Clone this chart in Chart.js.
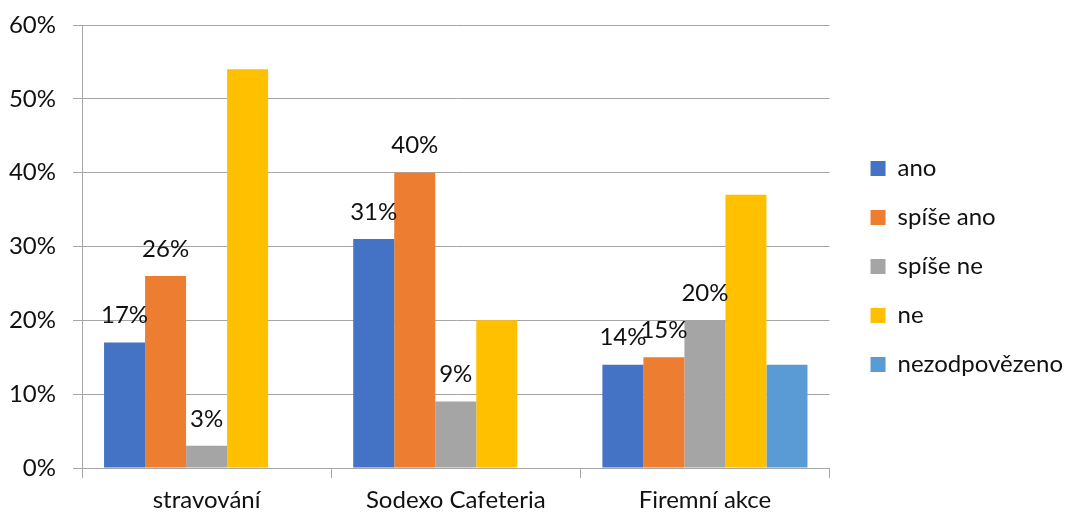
<!DOCTYPE html>
<html>
<head>
<meta charset="utf-8">
<script src="https://cdn.jsdelivr.net/npm/chart.js@4"></script>
<style>
	html, body { margin: 0; padding: 0; background: #fff; }
	#wrap { width: 1067px; height: 514px; }
</style>
</head>
<body>
<div id="wrap"><canvas id="survey-chart"></canvas></div>
<script>
const categories = ["stravování", "Sodexo Cafeteria", "Firemní akce"];
const seriesNames = ["ano", "spíše ano", "spíše ne", "ne", "nezodpovězeno"];
const ano = [17, 31, 14];
const spiseAno = [26, 40, 15];
const spiseNe = [3, 9, 20];
const ne = [54, 20, 37];
const nezodpovezeno = [null, null, 14];
const seriesColors = ["#4472c4", "#ed7d31", "#a5a5a5", "#ffc000", "#5b9bd5"];
const labelledSeries = [true, true, true, false, false];
const yTicks = [0, 10, 20, 30, 40, 50, 60];

const FONT = "Lato";
const FONT_SIZE = 24;
const gridColor = "#a6a6a6";
const textColor = "#111";

const seriesValues = [ano, spiseAno, spiseNe, ne, nezodpovezeno];

// labels above bars (no datalabels plugin offline)
const barLabels = {
	id: "barLabels",
	afterDatasetsDraw(chart) {
		const ctx = chart.ctx;
		ctx.save();
		ctx.font = FONT_SIZE + "px " + FONT;
		ctx.fillStyle = textColor;
		ctx.textAlign = "center";
		ctx.textBaseline = "middle";
		chart.data.datasets.forEach((ds, i) => {
			if (!labelledSeries[i]) return;
			chart.getDatasetMeta(i).data.forEach((bar, j) => {
				if (ds.data[j] == null) return;
				ctx.fillText(ds.data[j] + "%", bar.x, bar.y - 27);
			});
		});
		ctx.restore();
	},
};

// push the legend a bit further from the plot, like the original
const legendNudge = {
	id: "legendNudge",
	afterLayout(chart) {
		const lg = chart.legend;
		if (!lg) return;
		lg.left += 16;
		lg.right += 16;
		lg.top -= 3;
		lg.bottom -= 3;
	},
};

new Chart(document.getElementById("survey-chart"), {
	type: "bar",
	data: {
		labels: categories,
		datasets: seriesNames.map((name, i) => ({
			label: name,
			data: seriesValues[i],
			backgroundColor: seriesColors[i],
			borderWidth: 0,
			categoryPercentage: 0.823,
			barPercentage: 1,
		})),
	},
	plugins: [barLabels, legendNudge],
	options: {
		responsive: true,
		maintainAspectRatio: false,
		animation: false,
		layout: {
			padding: { top: 25, right: 10, bottom: 0, left: 0 },
		},
		plugins: {
			legend: {
				position: "right",
				labels: {
					boxWidth: 15,
					boxHeight: 15,
					padding: 25,
					color: textColor,
					font: { family: FONT, size: FONT_SIZE },
				},
			},
			tooltip: { enabled: false },
		},
		scales: {
			x: {
				afterFit: (scale) => {
					scale.height = 46;
				},
				grid: {
					offset: true,
					drawOnChartArea: false,
					drawTicks: true,
					tickLength: 10,
					color: gridColor,
				},
				border: { color: gridColor, width: 1 },
				ticks: {
					color: textColor,
					padding: 8,
					font: { family: FONT, size: FONT_SIZE },
				},
			},
			y: {
				min: 0,
				max: 60,
				afterBuildTicks: (axis) => {
					axis.ticks = yTicks.map((v) => ({ value: v }));
				},
				afterFit: (scale) => {
					scale.width = 82;
					scale.paddingTop = 0;
					scale.paddingBottom = 0;
				},
				grid: {
					color: gridColor,
					tickLength: 9,
				},
				border: { color: gridColor, width: 1 },
				ticks: {
					color: textColor,
					padding: 17,
					font: { family: FONT, size: FONT_SIZE },
					callback: (v) => v + "%",
				},
			},
		},
	},
});
</script>
</body>
</html>
